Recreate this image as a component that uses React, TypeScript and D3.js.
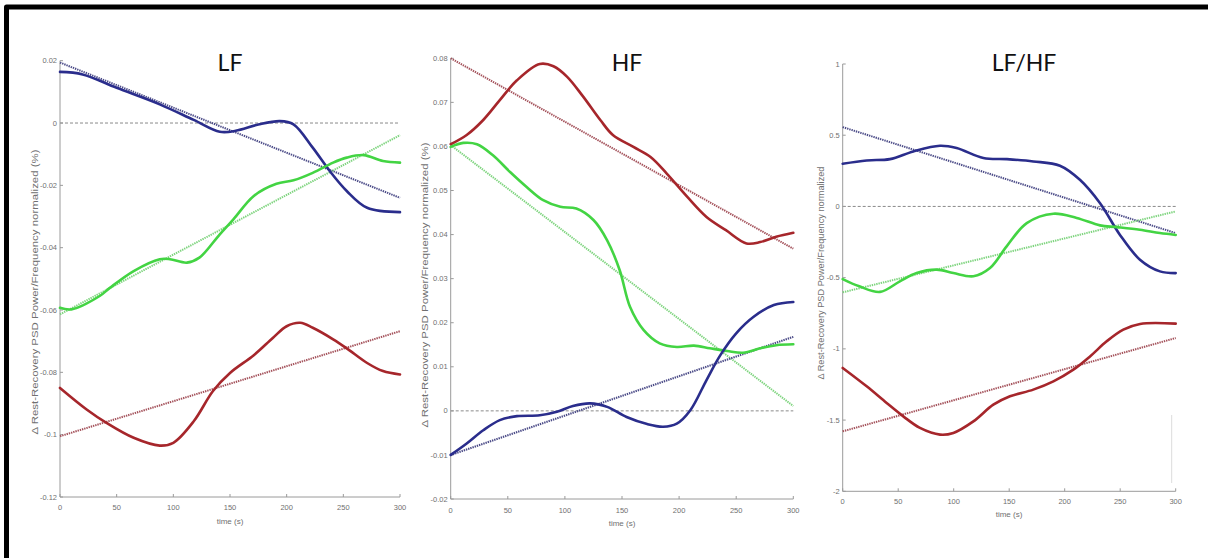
import React from "react";
import * as d3 from "d3";

// ---------- Data ----------
// LF panel
const lfBlueT = [0, 20, 50, 88, 118, 141, 155, 175, 194, 206, 223, 238, 253, 271, 300];
const lfBlueV = [0.0164, 0.0156, 0.0113, 0.006, 0.001, -0.0028, -0.0025, -0.0005, 0.0006, -0.0004, -0.0079, -0.0154, -0.0218, -0.0272, -0.0286];
const lfGreenT = [0, 10, 35, 44, 65, 88, 97, 112, 123, 141, 153, 171, 191, 206, 223, 241, 253, 268, 285, 300];
const lfGreenV = [-0.0593, -0.0598, -0.0555, -0.0529, -0.0475, -0.0437, -0.0437, -0.0448, -0.0432, -0.0357, -0.0309, -0.0234, -0.0195, -0.0184, -0.016, -0.0127, -0.0111, -0.0103, -0.0122, -0.0127];
const lfRedT = [0, 23.5, 41, 65, 88, 100, 118, 135, 150, 171, 188, 200, 212, 223, 241, 253, 271, 285, 300];
const lfRedV = [-0.085, -0.0919, -0.0962, -0.101, -0.1035, -0.1026, -0.0957, -0.086, -0.0802, -0.0745, -0.0689, -0.0652, -0.0641, -0.0657, -0.0694, -0.0723, -0.077, -0.0796, -0.0807];
const lfTrendBlue = [0.0194, -0.024];
const lfTrendGreen = [-0.0614, -0.0039];
const lfTrendRed = [-0.1005, -0.0668];
const lfTicks = [0.02, 0, -0.02, -0.04, -0.06, -0.08, -0.1, -0.12];
const lfTickLabels = ["0.02", "0", "-0.02", "-0.04", "-0.06", "-0.08", "-0.1", "-0.12"];

// HF panel
const hfRedT = [0, 14, 28.5, 43, 58, 78, 90, 102, 116, 131, 142, 160, 175, 189, 207, 224, 241, 259, 271, 285, 300];
const hfRedV = [0.0605, 0.0626, 0.066, 0.0705, 0.075, 0.0787, 0.0782, 0.0758, 0.0713, 0.066, 0.0626, 0.0599, 0.0576, 0.0539, 0.0486, 0.044, 0.041, 0.038, 0.0383, 0.0395, 0.0404];
const hfGreenT = [0, 11, 23, 37, 52, 66.5, 81, 96, 110, 125, 137, 148, 157, 169, 183, 198, 213, 227, 242, 256, 271, 285, 300];
const hfGreenV = [0.0599, 0.0608, 0.0605, 0.058, 0.0542, 0.0508, 0.0478, 0.0463, 0.0459, 0.0433, 0.0387, 0.0319, 0.0236, 0.0183, 0.0153, 0.0145, 0.0148, 0.0142, 0.0136, 0.0132, 0.0142, 0.0149, 0.0151];
const hfBlueT = [0, 14, 28.5, 43, 58, 78, 93, 107, 122, 137, 154, 172, 186, 198, 210, 224, 236, 250, 265, 283, 300];
const hfBlueV = [-0.01, -0.0074, -0.0044, -0.0021, -0.0012, -0.001, -0.0002, 0.0011, 0.0017, 0.0009, -0.0014, -0.003, -0.0036, -0.0029, 0.0002, 0.007, 0.0126, 0.0176, 0.0213, 0.024, 0.0247];
const hfTrendRed = [0.08, 0.0368];
const hfTrendGreen = [0.0603, 0.0011];
const hfTrendBlue = [-0.01, 0.0168];
const hfTicks = [0.08, 0.07, 0.06, 0.05, 0.04, 0.03, 0.02, 0.01, 0, -0.01, -0.02];
const hfTickLabels = ["0.08", "0.07", "0.06", "0.05", "0.04", "0.03", "0.02", "0.01", "0", "-0.01", "-0.02"];

// LF/HF panel
const rBlueT = [0, 21.6, 42.6, 63.6, 87.6, 102.6, 126.7, 147.7, 171.7, 195.7, 213.7, 231.7, 249.8, 267.8, 285.8, 300];
const rBlueV = [0.3, 0.323, 0.332, 0.386, 0.426, 0.41, 0.34, 0.332, 0.316, 0.286, 0.187, 0.024, -0.2, -0.374, -0.456, -0.468];
const rGreenT = [0, 15, 33.6, 51.5, 66.6, 84.7, 99.7, 117.7, 132.7, 147.7, 165.8, 189.8, 210.8, 231.8, 246.8, 267.8, 285.8, 300];
const rGreenV = [-0.51, -0.561, -0.6, -0.526, -0.468, -0.444, -0.468, -0.49, -0.432, -0.28, -0.117, -0.051, -0.081, -0.133, -0.145, -0.164, -0.187, -0.2];
const rRedT = [0, 21.6, 39.6, 54.6, 69.6, 87.7, 99.7, 117.7, 135.7, 150.7, 171.7, 189.8, 207.8, 222.8, 237.8, 252.8, 267.9, 300];
const rRedV = [-1.134, -1.263, -1.38, -1.474, -1.555, -1.602, -1.59, -1.509, -1.392, -1.333, -1.286, -1.228, -1.146, -1.053, -0.947, -0.865, -0.825, -0.823];
const rTrendBlue = [0.557, -0.187];
const rTrendGreen = [-0.603, -0.035];
const rTrendRed = [-1.579, -0.924];
const rTicks = [1, 0.5, 0, -0.5, -1, -1.5, -2];
const rTickLabels = ["1", "0.5", "0", "-0.5", "-1", "-1.5", "-2"];

const timeTicks = [0, 50, 100, 150, 200, 250, 300];
const timeTickLabels = ["0", "50", "100", "150", "200", "250", "300"];
const trendT = [0, 300];

const titles = ["LF", "HF", "LF/HF"];
const yLabelPct = "\u0394 Rest-Recovery PSD Power/Frequency normalized (%)";
const yLabelPlain = "\u0394 Rest-Recovery PSD Power/Frequency normalized";
const xLabel = "time (s)";

// ---------- Styles ----------
const BLUE = "#2a2d8c";
const GREEN = "#43d443";
const RED = "#a6262b";
const BLUE_TR = "#4c4c88";
const GREEN_TR = "#7ed47e";
const RED_TR = "#a4525b";
const AXIS = "#9a9a9a";
const TICKTXT = "#707070";

type Series = { t: number[]; v: number[]; color: string; trend: number[]; trendColor: string };

type PanelCfg = {
  title: string;
  titleX: number;
  x0: number; x1: number;
  yTop: number; yBot: number;
  domain: [number, number];
  ticks: number[]; tickLabels: string[];
  series: Series[];
  yLabel: string; yLabelX: number; yLabelY: number; yLabelLen: number;
  xTickY: number; xLabelX: number; xLabelY: number;
};

const panels: PanelCfg[] = [
  {
    title: titles[0], titleX: 230,
    x0: 60, x1: 400, yTop: 60.7, yBot: 497, domain: [-0.12, 0.02],
    ticks: lfTicks, tickLabels: lfTickLabels,
    series: [
      { t: lfBlueT, v: lfBlueV, color: BLUE, trend: lfTrendBlue, trendColor: BLUE_TR },
      { t: lfGreenT, v: lfGreenV, color: GREEN, trend: lfTrendGreen, trendColor: GREEN_TR },
      { t: lfRedT, v: lfRedV, color: RED, trend: lfTrendRed, trendColor: RED_TR },
    ],
    yLabel: yLabelPct, yLabelX: 35, yLabelY: 292, yLabelLen: 285,
    xTickY: 510, xLabelX: 230, xLabelY: 524,
  },
  {
    title: titles[1], titleX: 627,
    x0: 450.7, x1: 793.3, yTop: 58.3, yBot: 499, domain: [-0.02, 0.08],
    ticks: hfTicks, tickLabels: hfTickLabels,
    series: [
      { t: hfRedT, v: hfRedV, color: RED, trend: hfTrendRed, trendColor: RED_TR },
      { t: hfGreenT, v: hfGreenV, color: GREEN, trend: hfTrendGreen, trendColor: GREEN_TR },
      { t: hfBlueT, v: hfBlueV, color: BLUE, trend: hfTrendBlue, trendColor: BLUE_TR },
    ],
    yLabel: yLabelPct, yLabelX: 425, yLabelY: 285, yLabelLen: 285,
    xTickY: 513, xLabelX: 622, xLabelY: 526,
  },
  {
    title: titles[2], titleX: 1024,
    x0: 842.7, x1: 1175.7, yTop: 64, yBot: 491.3, domain: [-2, 1],
    ticks: rTicks, tickLabels: rTickLabels,
    series: [
      { t: rBlueT, v: rBlueV, color: BLUE, trend: rTrendBlue, trendColor: BLUE_TR },
      { t: rGreenT, v: rGreenV, color: GREEN, trend: rTrendGreen, trendColor: GREEN_TR },
      { t: rRedT, v: rRedV, color: RED, trend: rTrendRed, trendColor: RED_TR },
    ],
    yLabel: yLabelPlain, yLabelX: 821, yLabelY: 273, yLabelLen: 213,
    xTickY: 503.5, xLabelX: 1009, xLabelY: 517,
  },
];

function Panel({ cfg }: { cfg: PanelCfg }) {
  const x = d3.scaleLinear().domain([0, 300]).range([cfg.x0, cfg.x1]);
  const y = d3.scaleLinear().domain(cfg.domain).range([cfg.yBot, cfg.yTop]);
  const curve = d3.line<[number, number]>().x((d) => x(d[0])).y((d) => y(d[1])).curve(d3.curveCatmullRom.alpha(0.5));
  const straight = d3.line<[number, number]>().x((d) => x(d[0])).y((d) => y(d[1]));
  const font = "'Liberation Sans', Arial, sans-serif";
  return (
    <g>
      <line x1={x(0)} x2={x(300)} y1={y(0)} y2={y(0)} stroke="#8a8a8a" strokeWidth={1} strokeDasharray="3,2" />
      <line x1={cfg.x0} x2={cfg.x0} y1={cfg.yTop} y2={cfg.yBot} stroke={AXIS} strokeWidth={1} />
      <line x1={cfg.x0} x2={cfg.x1} y1={cfg.yBot} y2={cfg.yBot} stroke={AXIS} strokeWidth={1} />
      {cfg.ticks.map((tv, i) => (
        <g key={"yt" + i}>
          <line x1={cfg.x0} x2={cfg.x0 + 3} y1={y(tv)} y2={y(tv)} stroke={AXIS} strokeWidth={1} />
          <text x={cfg.x0 - 3} y={y(tv)} dy="0.35em" textAnchor="end" fontSize={7.5} fill={TICKTXT} fontFamily={font}>
            {cfg.tickLabels[i]}
          </text>
        </g>
      ))}
      {timeTicks.map((tv, i) => (
        <g key={"xt" + i}>
          <line x1={x(tv)} x2={x(tv)} y1={cfg.yBot} y2={cfg.yBot - 3} stroke={AXIS} strokeWidth={1} />
          <text x={x(tv)} y={cfg.xTickY} textAnchor="middle" fontSize={7.5} fill={TICKTXT} fontFamily={font}>
            {timeTickLabels[i]}
          </text>
        </g>
      ))}
      <text x={cfg.xLabelX} y={cfg.xLabelY} textAnchor="middle" fontSize={8} fill={TICKTXT} fontFamily={font}>
        {xLabel}
      </text>
      <text
        transform={`translate(${cfg.yLabelX},${cfg.yLabelY}) rotate(-90)`}
        textAnchor="middle"
        dy="0.35em"
        fontSize={9}
        fill={TICKTXT}
        fontFamily={font}
        textLength={cfg.yLabelLen}
        lengthAdjust="spacingAndGlyphs"
      >
        {cfg.yLabel}
      </text>
      {cfg.series.map((s, i) => (
        <path
          key={"tr" + i}
          d={straight(trendT.map((t, k) => [t, s.trend[k]] as [number, number])) || ""}
          fill="none"
          stroke={s.trendColor}
          strokeWidth={2}
          strokeDasharray="1.4,0.9"
        />
      ))}
      {cfg.series.map((s, i) => (
        <path
          key={"c" + i}
          d={curve(s.t.map((t, k) => [t, s.v[k]] as [number, number])) || ""}
          fill="none"
          stroke={s.color}
          strokeWidth={2.6}
          strokeLinejoin="round"
          strokeLinecap="round"
        />
      ))}
      <text x={cfg.titleX} y={71} textAnchor="middle" fontSize={23} fill="#111" fontFamily="Lato, 'Open Sans', sans-serif">
        {cfg.title}
      </text>
    </g>
  );
}

export default function App() {
  return (
    <svg
      width={1208}
      height={558}
      viewBox="0 0 1208 558"
      style={{ position: "absolute", left: 0, top: 0, background: "#fff", display: "block" }}
    >
      <rect x={0} y={0} width={1208} height={558} fill="#fff" />
      <path d="M6.5,558 L6.5,7 L1208,7" fill="none" stroke="#000" strokeWidth={5} strokeLinejoin="round" />
      {panels.map((p, i) => (
        <Panel key={i} cfg={p} />
      ))}
      <line x1={1171.7} x2={1171.7} y1={415} y2={483} stroke="#dcdcdc" strokeWidth={1} />
    </svg>
  );
}
